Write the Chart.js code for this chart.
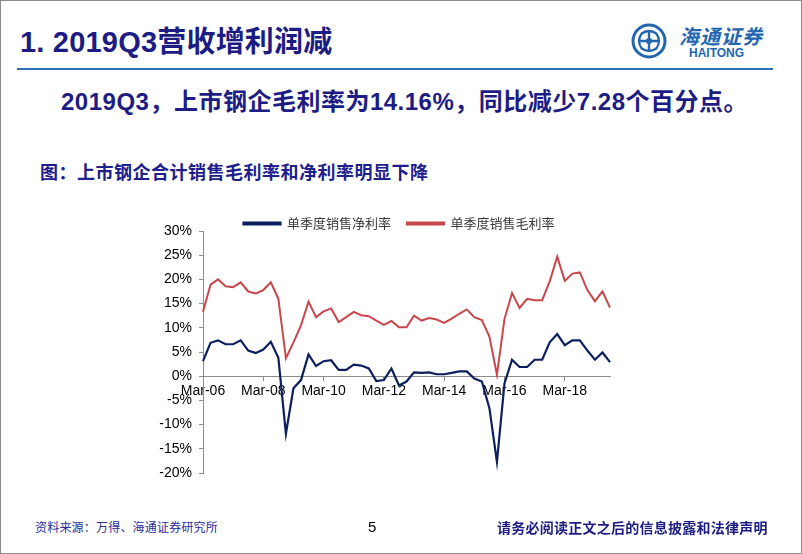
<!DOCTYPE html>
<html>
<head>
<meta charset="utf-8">
<script src="https://cdn.jsdelivr.net/npm/chart.js@4.4.1/dist/chart.umd.min.js"></script>
<style>
  html, body { margin: 0; padding: 0; background: #fff; }
  #page { position: relative; width: 802px; height: 554px; overflow: hidden; background: #fff; }
  #frame { position: absolute; left: 0; top: 0; width: 802px; height: 554px; box-sizing: border-box; border: 1px solid #8a8a8a; }
  .txt { position: absolute; white-space: nowrap; font-family: "Liberation Sans", "Noto Sans CJK SC", sans-serif; }
  #title { left: 20px; top: 28px; font-size: 29px; line-height: 29px; font-weight: bold; color: #1c1c84; letter-spacing: 0.2px; }
  #rule { position: absolute; left: 17px; top: 68px; width: 756px; height: 2px; background: #2f6fb4; }
  #subtitle { left: 61px; top: 88px; font-size: 24px; line-height: 28px; font-weight: bold; color: #1c1c84; letter-spacing: 0.5px; }
  #caption { left: 40px; top: 161px; font-size: 18px; line-height: 20px; font-weight: bold; color: #20208c; font-family: "Noto Sans CJK SC", sans-serif; letter-spacing: 0.5px; }
  #source { left: 35px; top: 519px; font-size: 12px; line-height: 16px; color: #2b2b96; font-family: "Noto Sans CJK SC", sans-serif; letter-spacing: 0.2px; }
  #pageno { left: 368px; top: 518px; font-size: 15px; line-height: 18px; color: #000; }
  #notice { left: 497px; top: 518px; font-size: 14px; line-height: 18px; font-weight: bold; color: #1c1c84; font-family: "Noto Sans CJK SC", sans-serif; letter-spacing: 0.25px; }
  #logoCn { left: 679px; top: 24px; font-size: 20px; line-height: 24px; font-weight: bold; font-style: italic; color: #2266b0; font-family: "Noto Sans CJK SC", sans-serif; letter-spacing: 1px; }
  #logoEn { left: 689px; top: 46px; font-size: 12px; line-height: 14px; font-weight: bold; color: #2266b0; }
  #logo { position: absolute; left: 630px; top: 22px; }
  #chartBox { position: absolute; left: 150px; top: 201px; width: 498px; height: 290px; }
</style>
</head>
<body>
<div id="page">
  <div class="txt" id="title">1. 2019Q3营收增利润减</div>
  <svg id="logo" width="38" height="38" viewBox="0 0 38 38">
    <circle cx="19" cy="19" r="16" fill="none" stroke="#2266b0" stroke-width="3"/>
    <path d="M11 12 Q19 6 27 12 M11 26 Q19 32 27 26 M12 11 Q6 19 12 27 M26 11 Q32 19 26 27" fill="none" stroke="#2266b0" stroke-width="2.2"/>
    <path d="M19 9 V29 M9 19 H29" stroke="#2266b0" stroke-width="2.4"/>
    <circle cx="19" cy="19" r="3" fill="#2266b0"/>
  </svg>
  <div class="txt" id="logoCn">海通证券</div>
  <div class="txt" id="logoEn">HAITONG</div>
  <div id="rule"></div>
  <div class="txt" id="subtitle">2019Q3，上市钢企毛利率为14.16%，同比减少7.28个百分点。</div>
  <div class="txt" id="caption">图：上市钢企合计销售毛利率和净利率明显下降</div>
  <div id="chartBox"><canvas id="chart"></canvas></div>
  <div class="txt" id="source">资料来源：万得、海通证券研究所</div>
  <div class="txt" id="pageno">5</div>
  <div class="txt" id="notice">请务必阅读正文之后的信息披露和法律声明</div>
  <div id="frame"></div>
</div>
<script>
// quarterly labels, Mar-06 .. Sep-19
const quarters = [
  "Mar-06", "Jun-06", "Sep-06", "Dec-06", "Mar-07", "Jun-07", "Sep-07", "Dec-07",
  "Mar-08", "Jun-08", "Sep-08", "Dec-08", "Mar-09", "Jun-09", "Sep-09", "Dec-09",
  "Mar-10", "Jun-10", "Sep-10", "Dec-10", "Mar-11", "Jun-11", "Sep-11", "Dec-11",
  "Mar-12", "Jun-12", "Sep-12", "Dec-12", "Mar-13", "Jun-13", "Sep-13", "Dec-13",
  "Mar-14", "Jun-14", "Sep-14", "Dec-14", "Mar-15", "Jun-15", "Sep-15", "Dec-15",
  "Mar-16", "Jun-16", "Sep-16", "Dec-16", "Mar-17", "Jun-17", "Sep-17", "Dec-17",
  "Mar-18", "Jun-18", "Sep-18", "Dec-18", "Mar-19", "Jun-19", "Sep-19"
];

// 单季度销售净利率 (%)
const netMargin = [
  3.1, 6.9, 7.4, 6.6, 6.6, 7.4, 5.3, 4.8,
  5.5, 7.1, 3.8, -11.9, -2.5, -0.8, 4.5, 2.1,
  3.1, 3.3, 1.3, 1.3, 2.4, 2.2, 1.6, -1.0,
  -0.8, 1.6, -1.9, -1.1, 0.8, 0.7, 0.8, 0.4,
  0.4, 0.7, 1.0, 1.0, -0.5, -1.1, -6.6, -17.7,
  -1.5, 3.4, 1.9, 1.9, 3.4, 3.4, 7.0, 8.7,
  6.4, 7.4, 7.4, 5.3, 3.4, 4.9, 2.9
];

// 单季度销售毛利率 (%)
const grossMargin = [
  13.3, 18.9, 20.0, 18.6, 18.4, 19.4, 17.5, 17.1,
  17.8, 19.4, 16.0, 3.7, 7.0, 10.5, 15.4, 12.2,
  13.4, 14.0, 11.2, 12.2, 13.3, 12.6, 12.4, 11.5,
  10.6, 11.4, 10.1, 10.1, 12.5, 11.5, 12.0, 11.7,
  11.0, 11.9, 12.9, 13.8, 12.2, 11.6, 8.2, 0.3,
  11.8, 17.2, 14.1, 16.0, 15.7, 15.7, 19.6, 24.7,
  19.7, 21.2, 21.44, 17.8, 15.5, 17.5, 14.16
];

const seriesNames = ["单季度销售净利率", "单季度销售毛利率"];
const yTicks = [-20, -15, -10, -5, 0, 5, 10, 15, 20, 25, 30];

const axisGray = "#8c8c8c";

new Chart(document.getElementById("chart"), {
  type: "line",
  data: {
    labels: quarters,
    datasets: [
      {
        label: seriesNames[0],
        data: netMargin,
        borderColor: "#0b1f5e",
        backgroundColor: "#0b1f5e",
        borderWidth: 2.2,
        pointRadius: 0,
        tension: 0,
      },
      {
        label: seriesNames[1],
        data: grossMargin,
        borderColor: "#c8474c",
        backgroundColor: "#c8474c",
        borderWidth: 2,
        pointRadius: 0,
        tension: 0,
      },
    ],
  },
  options: {
    responsive: true,
    maintainAspectRatio: false,
    animation: false,
    layout: {
      padding: { left: 0, right: 0, top: 0, bottom: 18 },
    },
    scales: {
      x: {
        type: "category",
        position: { y: 0 },
        offset: false,
        border: { display: true, color: axisGray, width: 1 },
        grid: {
          drawOnChartArea: false,
          drawTicks: true,
          tickLength: 4,
          color: (ctx) => (ctx.index % 8 === 0 ? axisGray : "rgba(0,0,0,0)"),
        },
        ticks: {
          autoSkip: false,
          maxRotation: 0,
          minRotation: 0,
          padding: 3,
          color: "#000",
          font: { family: "Liberation Sans", size: 14 },
          callback: function (value, index) {
            return index % 8 === 0 ? quarters[index] : "";
          },
        },
      },
      y: {
        min: -20,
        max: 30,
        afterFit: function (scale) {
          scale.width = 53;
        },
        afterBuildTicks: function (scale) {
          scale.ticks = yTicks.map((v) => ({ value: v }));
        },
        border: { display: true, color: axisGray, width: 1 },
        grid: {
          drawOnChartArea: false,
          drawTicks: true,
          tickLength: 4,
          color: axisGray,
        },
        ticks: {
          padding: 7,
          color: "#000",
          font: { family: "Liberation Sans", size: 14 },
          callback: function (value) {
            return value + "%";
          },
        },
      },
      // empty right-hand spacer so the legend sits where it does in the slide
      spacer: {
        type: "linear",
        position: "right",
        afterFit: function (scale) {
          scale.width = 38;
        },
        border: { display: false },
        grid: { display: false },
        ticks: { display: false },
      },
    },
    plugins: {
      legend: {
        display: true,
        position: "top",
        maxHeight: 30,
        labels: {
          boxWidth: 37,
          boxHeight: 2,
          padding: 16,
          color: "#3a3a3a",
          font: { family: "Noto Sans CJK SC", size: 13 },
        },
      },
      tooltip: { enabled: false },
    },
  },
});
</script>
</body>
</html>
